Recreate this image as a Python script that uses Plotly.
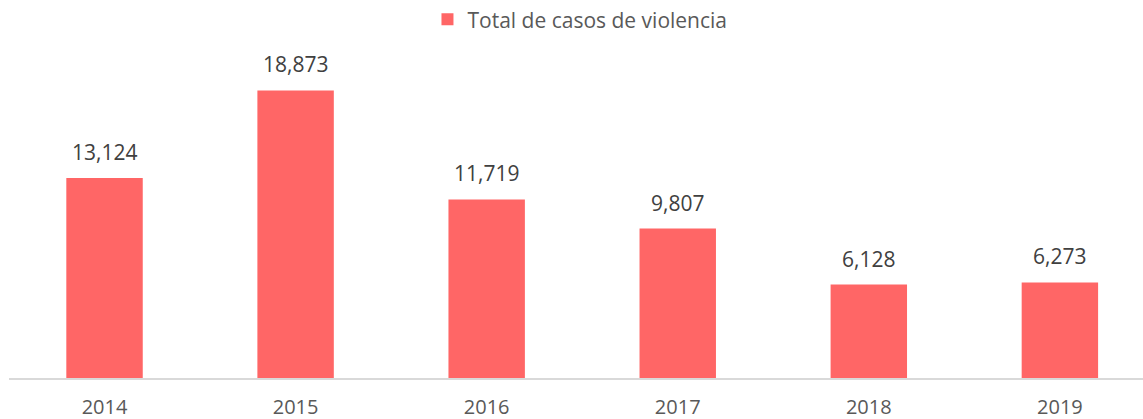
import plotly.graph_objects as go

years = ["2014", "2015", "2016", "2017", "2018", "2019"]
casos = [13124, 18873, 11719, 9807, 6128, 6273]
series_name = "Total de casos de violencia"

FONT = "Open Sans"
BAR = "#FF6666"

fig = go.Figure()
fig.add_trace(go.Bar(
    x=years, y=casos, name=series_name,
    marker=dict(color=BAR, line=dict(width=0)),
    width=0.4, showlegend=True, hoverinfo="skip",
))

for i, v in enumerate(casos):
    fig.add_annotation(
        x=i, y=v, xref="x", yref="y", text=f"{v:,}", showarrow=False,
        yanchor="bottom", yshift=10,
        font=dict(family=FONT, size=21, color="#404040"),
    )

fig.update_layout(
    width=1143, height=419,
    margin=dict(l=9, r=0, t=40, b=41, autoexpand=False),
    paper_bgcolor="white", plot_bgcolor="white",
    showlegend=True,
    legend=dict(
        orientation="h", x=0.5035, xanchor="center", y=1.06, yanchor="middle",
        font=dict(family=FONT, size=21, color="#595959"),
        bgcolor="rgba(0,0,0,0)",
    ),
    xaxis=dict(
        type="category", range=[-0.5, 5.435], automargin=False,
        showline=True, linecolor="#D9D9D9", linewidth=1.5,
        showgrid=False, zeroline=False, ticks="",
        tickfont=dict(family=FONT, size=20, color="#595959"),
        ticklabelstandoff=10,
    ),
    yaxis=dict(range=[0, 22180], visible=False, showgrid=False, zeroline=False,
               automargin=False),
    bargap=0.6,
)

fig.write_html(
    "out.html",
    config={"displayModeBar": False},
    post_script="document.body.style.margin='0';document.body.style.padding='0';",
)
